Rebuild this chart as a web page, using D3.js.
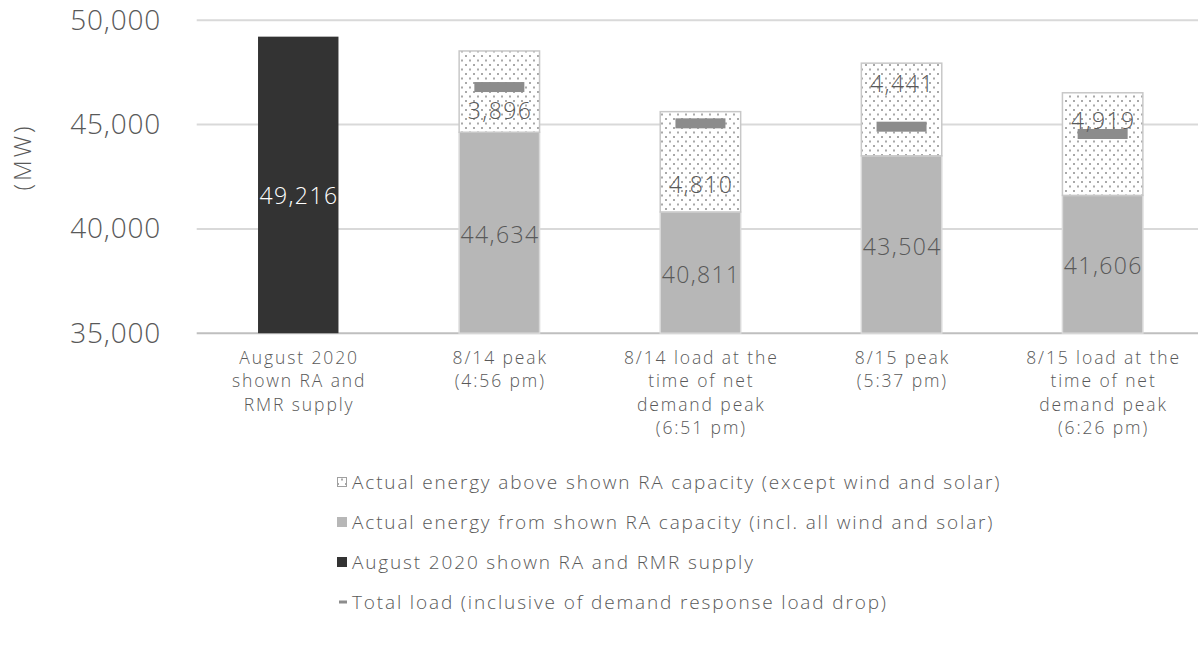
<!DOCTYPE html>
<html><head><meta charset="utf-8">
<script src="https://cdn.jsdelivr.net/npm/d3@7"></script>
<style>
html,body{margin:0;padding:0;background:#fff;}
svg text{font-family:"Open Sans","DejaVu Sans",sans-serif;font-weight:300;fill:#595959;}
</style></head>
<body>
<svg id="chart" width="1198" height="652"></svg>
<script>
const categories = [
  ["August 2020","shown RA and","RMR supply"],
  ["8/14 peak","(4:56 pm)"],
  ["8/14 load at the","time of net","demand peak","(6:51 pm)"],
  ["8/15 peak","(5:37 pm)"],
  ["8/15 load at the","time of net","demand peak","(6:26 pm)"]
];
const supply   = [49216, null, null, null, null];
const shownRA  = [null, 44634, 40811, 43504, 41606];
const aboveRA  = [null, 3896, 4810, 4441, 4919];
const totalLoad = [null, 46800, 45060, 44900, 44550];
const supplyLabelAt = [41580, null, null, null, null];
const aboveLabelAt = [null, 45650, 42100, 46950, 45170];
const yTicks = [35000, 40000, 45000, 50000];
const legendLabels = [
  "Actual energy above shown RA capacity (except wind and solar)",
  "Actual energy from shown RA capacity (incl. all wind and solar)",
  "August 2020 shown RA and RMR supply",
  "Total load (inclusive of demand response load drop)"
];

const svg = d3.select("#chart");
const keys = categories.map((c,i)=>"c"+i);
const x = d3.scaleBand().domain(keys).range([197.7, 1203.2]).paddingInner(0.6).paddingOuter(0.3);
const y = d3.scaleLinear().domain([35000, 50000]).range([333.2, 20.3]);
const fmt = d3.format(",");
const cx = i => x(keys[i]) + x.bandwidth()/2;

// pattern
const defs = svg.append("defs");
const pat = defs.append("pattern").attr("id","dots").attr("patternUnits","userSpaceOnUse")
  .attr("width",8).attr("height",9);
pat.append("rect").attr("width",8).attr("height",9).attr("fill","#fff");
pat.append("rect").attr("x",1).attr("y",1).attr("width",2).attr("height",2).attr("fill","#a9a9a9");
pat.append("rect").attr("x",5).attr("y",5.5).attr("width",2).attr("height",2).attr("fill","#a9a9a9");

// gridlines
svg.append("g").selectAll("line").data(yTicks).join("line")
  .attr("x1",196.7).attr("x2",1198)
  .attr("y1",d=>y(d)).attr("y2",d=>y(d))
  .attr("stroke",d=>d===35000?"#bfbfbf":"#d9d9d9").attr("stroke-width",2);

// y axis labels
const yAxis = d3.axisLeft(y).tickValues(yTicks).tickFormat(fmt).tickSize(0).tickPadding(0);
const ga = svg.append("g").attr("transform","translate(161,0)").call(yAxis);
ga.select(".domain").remove();
ga.selectAll("text").attr("font-size",28).attr("fill","#595959")
  .style("font-family",'"Open Sans","DejaVu Sans",sans-serif').style("font-weight",300)
  .style("letter-spacing","0.8px");

svg.append("text").attr("transform","translate(23,157) rotate(-90)")
  .attr("text-anchor","middle").attr("dy","0.35em").attr("font-size",24)
  .style("letter-spacing","3px").text("(MW)");

const idx = d3.range(categories.length);
const base = 35000;

// supply bar
svg.append("g").selectAll("rect").data(idx.filter(i=>supply[i]!=null)).join("rect")
  .attr("x",i=>x(keys[i])).attr("width",x.bandwidth())
  .attr("y",i=>y(supply[i])).attr("height",i=>y(base)-y(supply[i]))
  .attr("fill","#333333");

// shownRA bars
svg.append("g").selectAll("rect").data(idx.filter(i=>shownRA[i]!=null)).join("rect")
  .attr("x",i=>x(keys[i])).attr("width",x.bandwidth())
  .attr("y",i=>y(shownRA[i])).attr("height",i=>y(base)-y(shownRA[i]))
  .attr("fill","#b7b7b7").attr("stroke","#d9d9d9").attr("stroke-width",1.5);

// above bars
svg.append("g").selectAll("rect").data(idx.filter(i=>aboveRA[i]!=null)).join("rect")
  .attr("x",i=>x(keys[i])).attr("width",x.bandwidth())
  .attr("y",i=>y(shownRA[i]+aboveRA[i])).attr("height",i=>y(shownRA[i])-y(shownRA[i]+aboveRA[i]))
  .attr("fill","url(#dots)").attr("stroke","#c8c8c8").attr("stroke-width",1.5);

// total load markers
svg.append("g").selectAll("rect").data(idx.filter(i=>totalLoad[i]!=null)).join("rect")
  .attr("x",i=>cx(i)-25).attr("width",50)
  .attr("y",i=>y(totalLoad[i])-5).attr("height",10)
  .attr("fill","#8c8c8c");

// labels
const lab = svg.append("g").attr("text-anchor","middle").attr("font-size",23)
  .style("letter-spacing","1.4px");
idx.filter(i=>supply[i]!=null).forEach(i=>{
  lab.append("text").attr("x",cx(i)+0.7)
    .attr("y",y(supplyLabelAt[i])).attr("dy","0.35em").style("fill","#ffffff").text(fmt(supply[i]));
});
idx.filter(i=>shownRA[i]!=null).forEach(i=>{
  lab.append("text").attr("x",cx(i)+0.7)
    .attr("y",(y(shownRA[i])+y(base))/2+2).attr("dy","0.35em").text(fmt(shownRA[i]));
});
idx.filter(i=>aboveRA[i]!=null).forEach(i=>{
  lab.append("text").attr("x",cx(i)+0.7)
    .attr("y",y(aboveLabelAt[i])).attr("dy","0.35em").text(fmt(aboveRA[i]));
});

// x labels
const xl = svg.append("g").attr("text-anchor","middle").attr("font-size",17.5)
  .style("letter-spacing","1.9px");
idx.forEach(i=>{
  const t = xl.append("text");
  categories[i].forEach((line,j)=>{
    t.append("tspan").attr("x",cx(i)+0.9).attr("y",358+j*23.3).attr("dy","0.35em").text(line);
  });
});

// legend
const lg = svg.append("g");
const ly = [482, 522, 562, 602];
legendLabels.forEach((txt,k)=>{
  const g = lg.append("g").attr("transform",`translate(0,${ly[k]})`);
  if(k===0) g.append("rect").attr("x",337.5).attr("y",-4.5).attr("width",9).attr("height",9).attr("fill","url(#dots)").attr("stroke","#a0a0a0").attr("stroke-width",1);
  if(k===1) g.append("rect").attr("x",337).attr("y",-5).attr("width",10).attr("height",10).attr("fill","#b7b7b7");
  if(k===2) g.append("rect").attr("x",337).attr("y",-5).attr("width",10).attr("height",10).attr("fill","#333333");
  if(k===3) g.append("rect").attr("x",339).attr("y",-1.5).attr("width",8).attr("height",3).attr("fill","#8c8c8c");
  g.append("text").attr("x",352).attr("y",0).attr("dy","0.35em").attr("font-size",19)
    .style("letter-spacing","1.85px").text(txt);
});
</script>
</body></html>
